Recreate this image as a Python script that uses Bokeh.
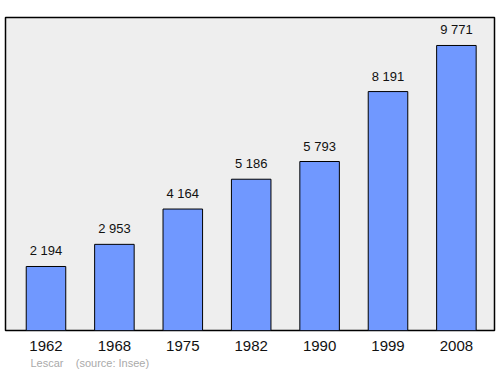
from bokeh.plotting import figure
from bokeh.models import ColumnDataSource, FixedTicker, Range1d, Title
from bokeh.core.properties import value
from bokeh.embed import file_html
from bokeh.resources import INLINE

years = ["1962", "1968", "1975", "1982", "1990", "1999", "2008"]
population = [2194, 2953, 4164, 5186, 5793, 8191, 9771]
labels = ["2 194", "2 953", "4 164", "5 186", "5 793", "8 191", "9 771"]
town = "Lescar"
source_note = "(source: Insee)"

xs = list(range(len(years)))
src = ColumnDataSource(dict(x=xs, top=population, lab=labels))

p = figure(width=500, height=374, output_backend="svg", toolbar_location=None,
           x_range=Range1d(-0.592, 6.557), y_range=Range1d(0, 10730),
           min_border_left=5, min_border_right=6, min_border_top=17, min_border_bottom=44)
p.background_fill_color = "#eeeeee"
p.border_fill_color = "white"
p.outline_line_color = "black"
p.outline_line_width = 1.5
p.grid.visible = False
p.yaxis.visible = False

p.vbar(x="x", top="top", bottom=0, width=0.578, source=src,
       fill_color="#7098ff", line_color="black", line_width=1)
p.text(x="x", y="top", text="lab", source=src, text_align="center",
       text_baseline="bottom", y_offset=-8, text_font_size="13px",
       text_font=value("Liberation Sans"), text_color="#111111")

ax = p.xaxis[0]
ax.ticker = FixedTicker(ticks=xs)
ax.major_label_overrides = {i: y for i, y in enumerate(years)}
ax.axis_line_color = None
ax.major_tick_line_color = None
ax.minor_tick_line_color = None
ax.major_tick_out = 0
ax.major_label_standoff = 10
ax.major_label_text_font_size = "15px"
ax.major_label_text_font = "Liberation Sans"
ax.major_label_text_color = "#111111"

note = Title(text=town + "\u00a0\u00a0\u00a0\u00a0" + source_note, align="left",
             offset=25, text_font_size="11px", text_font_style="normal",
             text_color="#aaaaaa", text_font="Liberation Sans", standoff=3)
p.add_layout(note, "below")

open("out.html", "w").write(file_html(p, INLINE))
